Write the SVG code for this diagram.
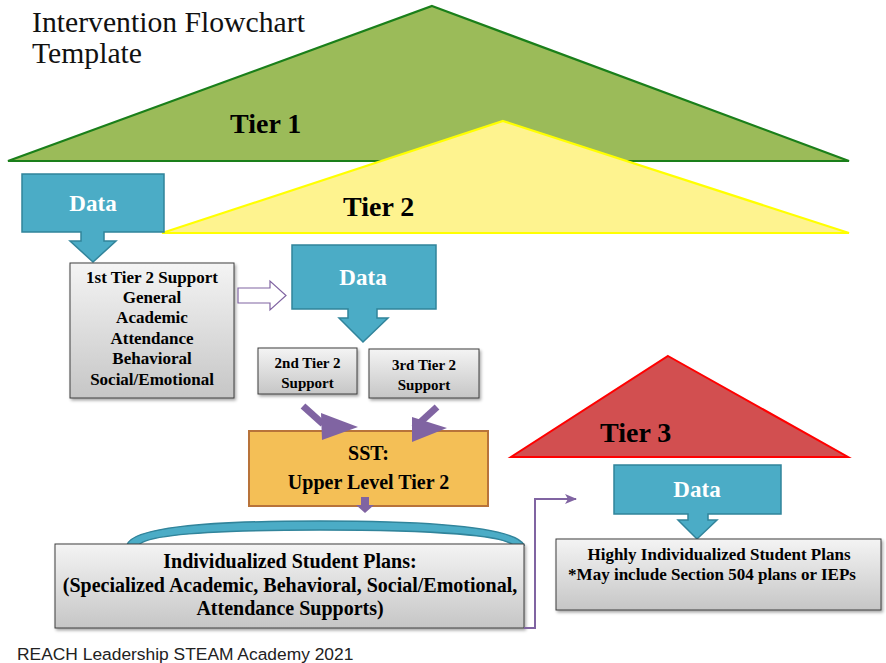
<svg xmlns="http://www.w3.org/2000/svg" width="886" height="663" viewBox="0 0 886 663">
<defs>
<linearGradient id="grey" x1="0" y1="0" x2="0" y2="1">
<stop offset="0" stop-color="#f4f4f4"/>
<stop offset="1" stop-color="#c6c6c6"/>
</linearGradient>
<filter id="shadow" x="-10%" y="-10%" width="130%" height="130%">
<feDropShadow dx="1.5" dy="2" stdDeviation="1.5" flood-color="#000" flood-opacity="0.35"/>
</filter>
<marker id="openArrow" viewBox="0 0 12 10" refX="11" refY="5" markerWidth="12" markerHeight="10" markerUnits="userSpaceOnUse" orient="auto">
<path d="M0,0 L12,5 L0,10 L3,5 Z" fill="#8064a2"/>
</marker>
<style>
.serif{font-family:"Liberation Serif","Times New Roman",serif;}
.b{font-family:"Liberation Serif","Times New Roman",serif;font-weight:bold;fill:#000;text-anchor:middle;}
.tier{font-family:"Liberation Serif","Times New Roman",serif;font-weight:bold;font-size:28px;fill:#000;}
.data{fill:#4bacc6;stroke:#31849b;stroke-width:1.5;}
.dataText{font-family:"Liberation Serif","Times New Roman",serif;font-weight:bold;font-size:23px;fill:#fff;text-anchor:middle;}
.box{fill:url(#grey);stroke:#3f3f3f;stroke-width:1;filter:url(#shadow);}
.purple{fill:#8064a2;}
</style>
</defs>

<g id="title">
<text class="serif" x="32" y="32" font-size="29.7" fill="#111">Intervention Flowchart</text>
<text class="serif" x="32" y="63" font-size="29.7" fill="#111">Template</text>
</g>

<g id="tier1">
<polygon points="432,6 849,161 8,161" fill="#9bbb59" stroke="#1a7f1a" stroke-width="2.2" stroke-linejoin="miter"/>
<text class="tier" x="230" y="133">Tier 1</text>
</g>

<g id="tier2">
<polygon points="503,121 849,233 162,233" fill="#fef38f" stroke="#ffff00" stroke-width="2.2"/>
<text class="tier" x="343" y="216">Tier 2</text>
</g>

<g id="data1">
<path class="data" d="M22,174 H164 V232 H104 V241 H116 L93,262 L70,241 H81 V232 H22 Z"/>
<text class="dataText" x="93" y="211">Data</text>
</g>

<g id="tier2-support1">
<rect class="box" x="70" y="263" width="164" height="135"/>
<text class="b" font-size="17" x="152" y="283">1st Tier 2 Support</text>
<text class="b" font-size="17" x="152" y="303">General</text>
<text class="b" font-size="17" x="152" y="323">Academic</text>
<text class="b" font-size="17" x="152" y="344">Attendance</text>
<text class="b" font-size="17" x="152" y="364">Behavioral</text>
<text class="b" font-size="17" x="152" y="385">Social/Emotional</text>
</g>

<g id="data2">
<path class="data" d="M292,245 H436 V309 H377 V318 H388 L363,342 L339,318 H348 V309 H292 Z"/>
<text class="dataText" x="363" y="285">Data</text>
</g>

<g id="tier2-support2">
<rect class="box" x="258" y="348" width="99" height="46"/>
<text class="b" font-size="15" x="307.5" y="368">2nd Tier 2</text>
<text class="b" font-size="15" x="307.5" y="388">Support</text>
</g>

<g id="tier2-support3">
<rect class="box" x="369" y="349" width="110" height="49"/>
<text class="b" font-size="15" x="424" y="370">3rd Tier 2</text>
<text class="b" font-size="15" x="424" y="390">Support</text>
</g>

<g id="sst">
<rect x="249" y="431" width="239" height="75" fill="#f4bf56" stroke="#b8733a" stroke-width="2"/>
<text class="b" font-size="20" x="368.5" y="460">SST:</text>
<text class="b" font-size="20" x="368.5" y="489">Upper Level Tier 2</text>
</g>

<g id="individualized-plans">
<path d="M127,545 C132,528 200,521 320,521 C440,521 515,528 524,545 L513,545 C503,536 440,530 320,530 C200,530 145,536 139,545 Z" fill="#4bacc6" stroke="#31849b" stroke-width="1.5"/>
<rect class="box" x="55" y="544" width="469" height="84"/>
<text class="b" font-size="20" x="290" y="568">Individualized Student Plans:</text>
<text class="b" font-size="20" x="290" y="592">(Specialized Academic, Behavioral, Social/Emotional,</text>
<text class="b" font-size="20" x="290" y="615">Attendance Supports)</text>
</g>

<g id="tier3">
<polygon points="668,356 848,457 511,457" fill="#d24f50" stroke="#ff0000" stroke-width="2"/>
<text class="tier" x="600" y="442">Tier 3</text>
</g>

<g id="data3">
<path class="data" d="M614,465 H781 V514 H708 V520 H717 L697,539 L678,520 H688 V514 H614 Z"/>
<text class="dataText" x="697" y="497">Data</text>
</g>

<g id="highly-individualized-plans">
<rect class="box" x="556" y="539" width="325" height="71"/>
<text class="b" font-size="17" x="719" y="560">Highly Individualized Student Plans</text>
<text class="b" font-size="17" x="712" y="580">*May include Section 504 plans or IEPs</text>
</g>

<g id="connectors">
<path d="M238,288 H270 V281 L286,295.5 L270,310 V303 H238 Z" fill="#fff" stroke="#8064a2" stroke-width="1.2"/>
<line x1="303" y1="406" x2="323" y2="424" stroke="#8064a2" stroke-width="7"/>
<polygon class="purple" points="321,413 358,427 322,440"/>
<line x1="437" y1="407" x2="414" y2="428" stroke="#8064a2" stroke-width="7"/>
<polygon class="purple" points="412,417 447,428 412,442"/>
<rect class="purple" x="361" y="497" width="8" height="9"/>
<polygon class="purple" points="356,505 374,505 365,513"/>
<path d="M524,628 H535 V499 H576" fill="none" stroke="#8064a2" stroke-width="2" marker-end="url(#openArrow)"/>
</g>

<g id="footer">
<text x="17" y="660" font-family="'Liberation Sans', Arial, sans-serif" font-size="17.4" fill="#222">REACH Leadership STEAM Academy 2021</text>
</g>
</svg>
